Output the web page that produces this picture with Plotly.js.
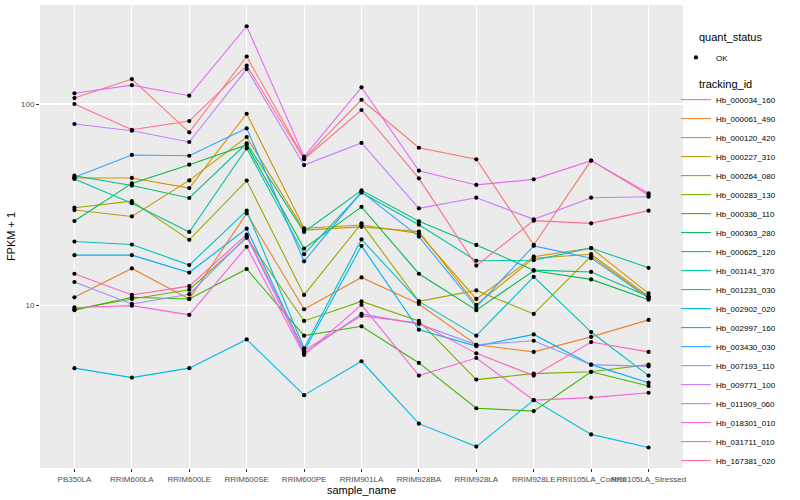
<!DOCTYPE html>
<html>
<head>
<meta charset="utf-8">
<script src="https://cdn.plot.ly/plotly-3.0.1.min.js"></script>
<style>html,body{margin:0;padding:0;background:#fff}#chart{width:800px;height:500px}</style>
</head>
<body>
<div id="chart"></div>
<script>
// ---- data (FPKM + 1) ----
const categories = ["PB350LA","RRIM600LA","RRIM600LE","RRIM600SE","RRIM600PE","RRIM901LA","RRIM928BA","RRIM928LA","RRIM928LE","RRII105LA_Control","RRII105LA_Stressed"];

const trackingIds = ["Hb_000034_160","Hb_000061_490","Hb_000120_420","Hb_000227_310","Hb_000264_080","Hb_000283_130","Hb_000336_110","Hb_000363_280","Hb_000625_120","Hb_001141_370","Hb_001231_030","Hb_002902_020","Hb_002997_160","Hb_003430_030","Hb_007193_110","Hb_009771_100","Hb_011909_060","Hb_018301_010","Hb_031711_010","Hb_167381_020"];

const seriesColors = ["#F8766D","#EA8331","#D89000","#C09B00","#A3A500","#7CAE00","#39B600","#00BB4E","#00BF7D","#00C1A3","#00BFC4","#00BAE0","#00B0F6","#35A2FF","#9590FF","#C77CFF","#E76BF3","#FA62DB","#FF62BC","#FF6C91"];

const hb_000034_160 = [107, 133, 72.4, 172, 53.8, 105, 60.7, 53.2, 20.0, 52.4, 35.4];
const hb_000061_490 = [11.0, 15.3, 10.8, 28.7, 9.6, 13.8, 10.2, 6.4, 5.9, 7.0, 8.5];
const hb_000120_420 = [43.0, 43.0, 38.3, 89.5, 24.2, 25.1, 22.8, 10.8, 17.5, 19.3, 11.5];
const hb_000227_310 = [29.8, 27.7, 41.8, 68.6, 23.7, 24.6, 23.3, 10.1, 17.2, 18.0, 11.1];
const hb_000264_080 = [30.6, 33.0, 21.2, 41.7, 11.3, 25.6, 10.5, 11.9, 9.1, 17.6, 10.9];
const hb_000283_130 = [9.6, 10.8, 12.0, 21.7, 8.4, 10.5, 8.4, 4.3, 4.6, 4.7, 5.1];
const hb_000336_110 = [9.5, 11.0, 10.8, 15.2, 7.1, 7.9, 5.2, 3.1, 3.0, 4.7, 4.0];
const hb_000363_280 = [26.3, 40.4, 50.0, 62.6, 19.2, 30.9, 14.4, 9.5, 14.9, 13.5, 10.7];
const hb_000625_120 = [44.1, 39.4, 34.2, 63.8, 23.2, 37.3, 26.2, 20.0, 15.0, 14.7, 11.1];
const hb_001141_370 = [42.5, 32.2, 23.2, 60.3, 18.0, 36.3, 25.2, 16.7, 16.8, 19.3, 15.4];
const hb_001231_030 = [20.8, 20.1, 15.9, 29.6, 6.15, 21.3, 10.5, 7.1, 13.9, 7.4, 4.5];
const hb_002902_020 = [4.9, 4.4, 4.9, 6.8, 3.6, 5.3, 2.6, 2.0, 3.4, 2.3, 1.98];
const hb_002997_160 = [17.8, 17.8, 14.6, 24.1, 5.95, 19.8, 7.6, 6.3, 7.2, 5.1, 4.15];
const hb_003430_030 = [43.3, 55.9, 55.4, 75.8, 16.6, 36.7, 22.0, 9.85, 19.8, 17.2, 10.9];
const hb_007193_110 = [13.1, 10.2, 11.4, 22.0, 5.8, 9.1, 8.1, 6.4, 6.7, 5.1, 5.0];
const hb_009771_100 = [79.6, 73.7, 64.8, 149, 49.8, 64.1, 30.4, 34.3, 26.8, 34.3, 34.7];
const hb_011909_060 = [113, 124, 110, 243, 54.8, 121, 46.7, 39.7, 42.3, 52.4, 36.1];
const hb_018301_010 = [9.8, 10.0, 9.0, 19.6, 5.7, 10.1, 4.5, 5.5, 3.4, 3.5, 3.7];
const hb_031711_010 = [14.4, 11.3, 12.5, 22.5, 6.0, 8.9, 8.2, 5.8, 4.5, 6.6, 5.9];
const hb_167381_020 = [100, 74.5, 82.3, 155, 53.2, 93.4, 42.8, 15.8, 26.4, 25.6, 29.6];

const seriesValues = [hb_000034_160, hb_000061_490, hb_000120_420, hb_000227_310, hb_000264_080, hb_000283_130, hb_000336_110, hb_000363_280, hb_000625_120, hb_001141_370, hb_001231_030, hb_002902_020, hb_002997_160, hb_003430_030, hb_007193_110, hb_009771_100, hb_011909_060, hb_018301_010, hb_031711_010, hb_167381_020];

const yTickVals = [10, 100];
const yTickText = ["10", "100"];

// ---- traces ----
const FONT = "Liberation Sans, Arial, Helvetica, sans-serif";
const traces = [];
trackingIds.forEach((id, i) => {
  traces.push({
    type: "scatter", mode: "lines", name: id,
    x: categories, y: seriesValues[i],
    line: {color: seriesColors[i], width: 1.1},
    legend: "legend2", hoverinfo: "skip"
  });
});
const allX = [], allY = [];
seriesValues.forEach(v => { v.forEach((val, j) => { allX.push(categories[j]); allY.push(val); }); });
traces.push({
  type: "scatter", mode: "markers", name: "OK",
  x: allX, y: allY,
  marker: {color: "#000000", size: 4.2},
  legend: "legend"
});

const layout = {
  width: 800, height: 500,
  margin: {l: 40, r: 117, t: 5, b: 32},
  paper_bgcolor: "#FFFFFF",
  plot_bgcolor: "#EBEBEB",
  font: {family: FONT, size: 8, color: "#4D4D4D"},
  xaxis: {
    type: "category", range: [-0.6, 10.6],
    categoryorder: "array", categoryarray: categories,
    showgrid: true, gridcolor: "#FFFFFF", gridwidth: 1.1,
    zeroline: false, showline: false,
    ticks: "outside", ticklen: 3, tickcolor: "#333333", tickwidth: 1,
    tickangle: 0,
    tickfont: {family: FONT, size: 8, color: "#4D4D4D"},
    title: {text: "sample_name", font: {family: FONT, size: 11, color: "#000000"}, standoff: 2},
    automargin: false
  },
  yaxis: {
    type: "log", range: [0.195, 2.491],
    tickmode: "array", tickvals: yTickVals, ticktext: yTickText,
    showgrid: true, gridcolor: "#FFFFFF", gridwidth: 1.1,
    zeroline: false, showline: false,
    ticks: "outside", ticklen: 3, tickcolor: "#333333", tickwidth: 1,
    tickfont: {family: FONT, size: 8, color: "#4D4D4D"},
    title: {text: "FPKM + 1", font: {family: FONT, size: 11, color: "#000000"}, standoff: 3},
    automargin: false
  },
  shapes: [0.5, 1.5].map(v => ({
    type: "line", xref: "paper", yref: "y", x0: 0, x1: 1, y0: v, y1: v,
    line: {color: "#FFFFFF", width: 0.6}, layer: "below"
  })),
  annotations: [
    {text: "quant_status", xref: "paper", yref: "paper", x: 1.0218, y: 0.931, xanchor: "left", yanchor: "middle", showarrow: false, font: {family: FONT, size: 11, color: "#000000"}},
    {text: "tracking_id", xref: "paper", yref: "paper", x: 1.0218, y: 0.8294, xanchor: "left", yanchor: "middle", showarrow: false, font: {family: FONT, size: 11, color: "#000000"}}
  ],
  legend: {
    x: 0.989, xanchor: "left", y: 0.918, yanchor: "top",
    bgcolor: "rgba(0,0,0,0)",
    font: {family: FONT, size: 8, color: "#000000"},
    itemwidth: 30
  },
  legend2: {
    x: 0.989, xanchor: "left", y: 0.827, yanchor: "top",
    bgcolor: "rgba(0,0,0,0)",
    font: {family: FONT, size: 8, color: "#000000"},
    itemwidth: 30, traceorder: "normal"
  },
  showlegend: true
};

Plotly.newPlot("chart", traces, layout, {displayModeBar: false, staticPlot: true});
</script>
</body>
</html>
